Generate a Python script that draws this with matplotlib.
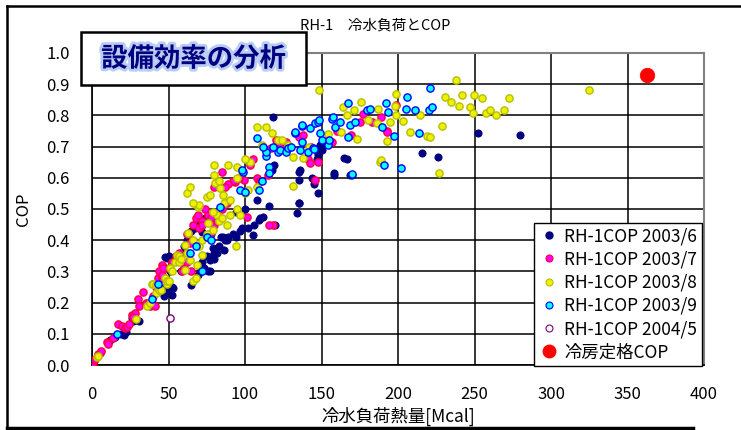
import matplotlib
matplotlib.use("Agg")
import matplotlib.pyplot as plt
from matplotlib.lines import Line2D
from matplotlib.patches import Rectangle
import matplotlib.patheffects as pe

plt.rcParams['font.family'] = ['Noto Sans CJK JP', 'DejaVu Sans']

# ---------------- data ----------------
title = "RH-1\u3000冷水負荷とCOP"
xlabel = "冷水負荷熱量[Mcal]"
ylabel = "COP"
labels = ["RH-1COP 2003/6", "RH-1COP 2003/7", "RH-1COP 2003/8",
          "RH-1COP 2003/9", "RH-1COP 2004/5", "冷房定格COP"]
xticks = [0, 50, 100, 150, 200, 250, 300, 350, 400]
yticks = [0.0, 0.1, 0.2, 0.3, 0.4, 0.5, 0.6, 0.7, 0.8, 0.9, 1.0]

jun_x = [12, 15, 19, 21, 22, 26, 27, 29, 31,
         43, 45, 47, 48, 50, 52, 53, 52,
         47.7, 48.8, 50, 53, 55, 51, 49,
         65, 69, 70.6, 73, 76, 77, 77, 77, 79, 80, 82, 80,
         84, 85.6, 87, 88, 89, 78, 71.7, 74, 69,
         96.7, 105, 110, 109, 112, 119.6, 116, 134, 135,
         60, 62, 65, 67, 58, 63, 94, 100, 106, 108,
         72, 75, 83, 86, 92, 94, 98, 102, 56, 58,
         118, 117.4, 119, 135, 135, 136, 143.6, 145, 148, 135, 148, 147, 150,
         158, 158, 165, 166.4, 168.6, 170, 148, 150, 149,
         216, 226, 252, 280]
jun_y = [0.08, 0.09, 0.10, 0.095, 0.105, 0.15, 0.14, 0.145, 0.14,
         0.25, 0.24, 0.22, 0.25, 0.23, 0.224, 0.246, 0.25,
         0.347, 0.342, 0.35, 0.336, 0.35, 0.30, 0.25,
         0.256, 0.29, 0.30, 0.31, 0.30, 0.30, 0.336, 0.345, 0.375, 0.34, 0.36, 0.36,
         0.41, 0.41, 0.40, 0.40, 0.41, 0.42, 0.427, 0.47, 0.45,
         0.43, 0.417, 0.47, 0.465, 0.475, 0.45, 0.51, 0.486, 0.52,
         0.38, 0.40, 0.43, 0.44, 0.36, 0.36, 0.49, 0.50, 0.45, 0.53,
         0.33, 0.35, 0.38, 0.37, 0.42, 0.41, 0.44, 0.44, 0.34, 0.30,
         0.796, 0.625, 0.64, 0.62, 0.593, 0.625, 0.60, 0.58, 0.55, 0.52, 0.673, 0.66, 0.69,
         0.615, 0.61, 0.665, 0.66, 0.61, 0.61, 0.68, 0.70, 0.705,
         0.678, 0.667, 0.742, 0.738]

jul_x = [0.5, 1, 2, 4, 5.2, 6, 9.6, 10.7, 14, 17, 19.4, 21.6, 22.7, 24, 26, 28, 27,
         30, 31, 33.5, 35, 37, 38, 40, 41, 42, 43, 45.5, 44, 46, 48, 46, 52, 55, 57,
         59, 60, 62, 64, 63, 66, 68, 70, 72, 74, 76, 78, 80, 82, 85, 88, 101, 118, 116,
         85, 93.5, 99.6, 107.6, 109, 110, 115, 92, 96, 89, 87, 80, 103, 105,
         117, 123, 120, 127, 135, 138, 143, 141, 142.5, 148, 145.7, 157, 169, 177,
         193, 189, 192.6, 199, 160, 175, 183,
         69.5, 71.7, 62, 77, 65, 46.6]
jul_y = [0.007, 0.015, 0.02, 0.035, 0.04, 0.045, 0.075, 0.067, 0.085, 0.13, 0.125, 0.12, 0.123, 0.13, 0.16, 0.167, 0.155,
         0.21, 0.19, 0.235, 0.2, 0.2, 0.19, 0.22, 0.19, 0.25, 0.28, 0.28, 0.30, 0.29, 0.31, 0.32, 0.33, 0.35, 0.36,
         0.30, 0.31, 0.33, 0.39, 0.42, 0.45, 0.47, 0.44, 0.46, 0.50, 0.48, 0.47, 0.45, 0.46, 0.50, 0.52, 0.475, 0.45, 0.45,
         0.62, 0.585, 0.593, 0.60, 0.59, 0.59, 0.61, 0.59, 0.60, 0.58, 0.57, 0.57, 0.64, 0.66,
         0.695, 0.70, 0.72, 0.716, 0.73, 0.737, 0.70, 0.66, 0.647, 0.65, 0.593, 0.716, 0.737, 0.806,
         0.75, 0.796, 0.748, 0.833, 0.75, 0.78, 0.78,
         0.48, 0.45, 0.42, 0.42, 0.30, 0.31]

aug_x = [3, 4, 28.5, 35.7, 38, 39, 40, 42, 42, 44, 45, 47.7, 48.8, 48.8, 50, 51, 52, 54,
         55.4, 57, 60.8, 61, 62, 63, 64, 66, 66, 68.4, 71.7, 76, 79, 81.5, 70, 72, 75,
         83, 85, 88, 90, 94, 95, 97, 68, 57, 58,
         69.5, 70, 75, 77, 80.4, 83.7, 85.8, 80, 89, 94.6, 103, 107.6, 111, 114, 117.4,
         121.8, 79.3, 86, 90, 100, 102, 107.6, 124, 128, 131.6, 138, 142, 131.6, 148.4,
         154.5, 163, 164, 166.4, 171, 173, 176, 180.6, 186, 187, 188, 189, 193, 195,
         198, 198.5, 198.7, 203, 208, 214.4, 219, 221, 227, 228.5, 231, 234.6, 237.6,
         240, 241.6, 247, 248.8, 249.7, 255, 257.5, 260, 264, 269.5, 272.6, 324.6,
         98, 100, 95, 80, 83, 66, 62, 64]
aug_y = [0.027, 0.03, 0.146, 0.19, 0.20, 0.26, 0.26, 0.23, 0.256, 0.24, 0.24, 0.278, 0.26, 0.27, 0.27, 0.31, 0.30, 0.33,
         0.353, 0.35, 0.304, 0.385, 0.358, 0.422, 0.336, 0.27, 0.40, 0.32, 0.353, 0.454, 0.433, 0.48, 0.38, 0.40, 0.42,
         0.46, 0.47, 0.45, 0.48, 0.38, 0.50, 0.48, 0.28, 0.33, 0.34,
         0.507, 0.513, 0.54, 0.545, 0.582, 0.566, 0.545, 0.61, 0.64, 0.636, 0.652, 0.572, 0.705, 0.764, 0.742,
         0.72, 0.49, 0.52, 0.53, 0.55, 0.56, 0.764, 0.72, 0.705, 0.667, 0.662, 0.70, 0.574, 0.88,
         0.74, 0.748, 0.828, 0.80, 0.817, 0.723, 0.844, 0.785, 0.775, 0.822, 0.652, 0.657, 0.717, 0.78,
         0.83, 0.87, 0.80, 0.783, 0.748, 0.80, 0.735, 0.73, 0.614, 0.765, 0.858, 0.843, 0.913,
         0.83, 0.865, 0.828, 0.807, 0.865, 0.855, 0.807, 0.817, 0.80, 0.817, 0.855, 0.88,
         0.62, 0.66, 0.60, 0.64, 0.59, 0.52, 0.55, 0.57]

sep_x = [16.5, 39, 43, 64, 68, 72, 75, 78, 83.7, 96.7, 98.8, 107.6, 109, 111, 114, 116, 116,
         121.8, 123, 127, 128, 130, 132.7, 132.7, 136, 137, 137, 137, 141, 142.5, 144.5, 145,
         145.8, 148, 148.6, 149, 150, 154.5, 155, 156.6, 157.7, 158.8, 162, 167.5, 167.5,
         168.6, 170, 171.6, 179.5, 182, 189.5, 191, 192, 193.6, 197.6, 201.8, 205, 205.7,
         211, 214, 220, 221, 222.5, 100, 97.8, 114, 118, 112]
sep_y = [0.10, 0.21, 0.26, 0.36, 0.38, 0.30, 0.41, 0.40, 0.507, 0.56, 0.62, 0.726, 0.56, 0.59, 0.67, 0.635, 0.614,
         0.683, 0.69, 0.683, 0.695, 0.70, 0.743, 0.748, 0.69, 0.716, 0.766, 0.77, 0.683, 0.759, 0.694, 0.692,
         0.775, 0.78, 0.785, 0.742, 0.72, 0.705, 0.72, 0.79, 0.796, 0.764, 0.78, 0.84, 0.73,
         0.77, 0.612, 0.78, 0.817, 0.82, 0.762, 0.64, 0.84, 0.81, 0.735, 0.633, 0.822, 0.858,
         0.817, 0.742, 0.817, 0.889, 0.828, 0.555, 0.625, 0.683, 0.70, 0.70]

may_x = [51]
may_y = [0.152]

rated_x = [363]
rated_y = [0.93]

# ---------------- figure ----------------
W, H = 741, 430
fig = plt.figure(figsize=(W / 100, H / 100), dpi=100)
fig.patch.set_facecolor('white')

ax_l, ax_r, ax_t, ax_b = 92, 704, 53, 365
ax = fig.add_axes([ax_l / W, 1 - ax_b / H, (ax_r - ax_l) / W, (ax_b - ax_t) / H])

ax.set_xlim(0, 400)
ax.set_ylim(0, 1.0)
ax.set_xticks(xticks)
ax.set_yticks(yticks)
ax.set_xticklabels([str(v) for v in xticks])
ax.set_yticklabels([f"{v:.1f}" for v in yticks])
ax.tick_params(axis='both', length=0, labelsize=12)
ax.tick_params(axis='x', pad=15)
ax.tick_params(axis='y', pad=16)
ax.grid(True, color='black', linewidth=1.1)
ax.set_axisbelow(True)
for side in ['top', 'right']:
    ax.spines[side].set_color('#808080')
    ax.spines[side].set_linewidth(1.5)
for side in ['left', 'bottom']:
    ax.spines[side].set_color('black')
    ax.spines[side].set_linewidth(1.2)

ms = 27
ax.scatter(jun_x, jun_y, s=ms, c='#000080', edgecolors='#000080', linewidths=0.6, zorder=3)
ax.scatter(jul_x, jul_y, s=ms, c='#FF00FF', edgecolors='#FF0033', linewidths=1.0, zorder=4)
ax.scatter(aug_x, aug_y, s=ms, c='#F0F000', edgecolors='#B4C000', linewidths=1.0, zorder=5)
ax.scatter(sep_x, sep_y, s=ms, c='#00FFFF', edgecolors='#0000FF', linewidths=1.0, zorder=6)
ax.scatter(may_x, may_y, s=ms, c='#EEFFEE', edgecolors='#800080', linewidths=1.0, zorder=7)
ax.scatter(rated_x, rated_y, s=110, c='#FF0000', edgecolors='#FF0000', linewidths=0.5, zorder=8)

ax.set_xlabel(xlabel, fontsize=12.5, labelpad=3)
ax.set_ylabel(ylabel, fontsize=12, labelpad=10)

handles = [
    Line2D([], [], ls='none', marker='o', ms=5, mfc='#000080', mec='#000080'),
    Line2D([], [], ls='none', marker='o', ms=5, mfc='#FF00FF', mec='#FF0033', mew=0.8),
    Line2D([], [], ls='none', marker='o', ms=5, mfc='#F0F000', mec='#B4C000', mew=0.8),
    Line2D([], [], ls='none', marker='o', ms=5, mfc='#00FFFF', mec='#0000FF', mew=0.8),
    Line2D([], [], ls='none', marker='o', ms=5, mfc='#EEFFEE', mec='#800080', mew=0.8),
    Line2D([], [], ls='none', marker='o', ms=9, mfc='#FF0000', mec='#FF0000'),
]
leg = ax.legend(handles, labels, loc='upper left',
                bbox_to_anchor=((534 - ax_l) / (ax_r - ax_l), (ax_b - 223) / (ax_b - ax_t)),
                fontsize=12.5, frameon=True, fancybox=False, edgecolor='black',
                framealpha=1, borderpad=0.25, labelspacing=0.3, handletextpad=0.3,
                handlelength=1.2, borderaxespad=0)
leg.get_frame().set_linewidth(1.0)
leg.set_zorder(10)

fig.text(375 / W, 1 - 26 / H, title, fontsize=10.5, ha='center', va='center')

# outer chart-area frame
fig.add_artist(Line2D([7 / W, 1.0], [1 - 5.5 / H, 1 - 5.5 / H], color='black', lw=1.8))
fig.add_artist(Line2D([7 / W, 7 / W], [0, 1 - 5.5 / H], color='black', lw=1.8))
fig.add_artist(Line2D([7 / W, 693 / W], [1 - 428 / H, 1 - 428 / H], color='black', lw=2.5))

# banner box
bx0, bx1, by0, by1 = 81, 306, 32, 85
fig.add_artist(Rectangle((bx0 / W, 1 - by1 / H), (bx1 - bx0) / W, (by1 - by0) / H,
                         facecolor='white', edgecolor='black', lw=1.8, zorder=20))
t = fig.text((bx0 + bx1) / 2 / W, 1 - 59 / H, "設備効率の分析", fontsize=19,
             fontweight='bold', color='#000080', ha='center', va='center', zorder=21)
t.set_path_effects([pe.withStroke(linewidth=4, foreground='#B8CCF4')])

fig.savefig('out.png', dpi=100)
